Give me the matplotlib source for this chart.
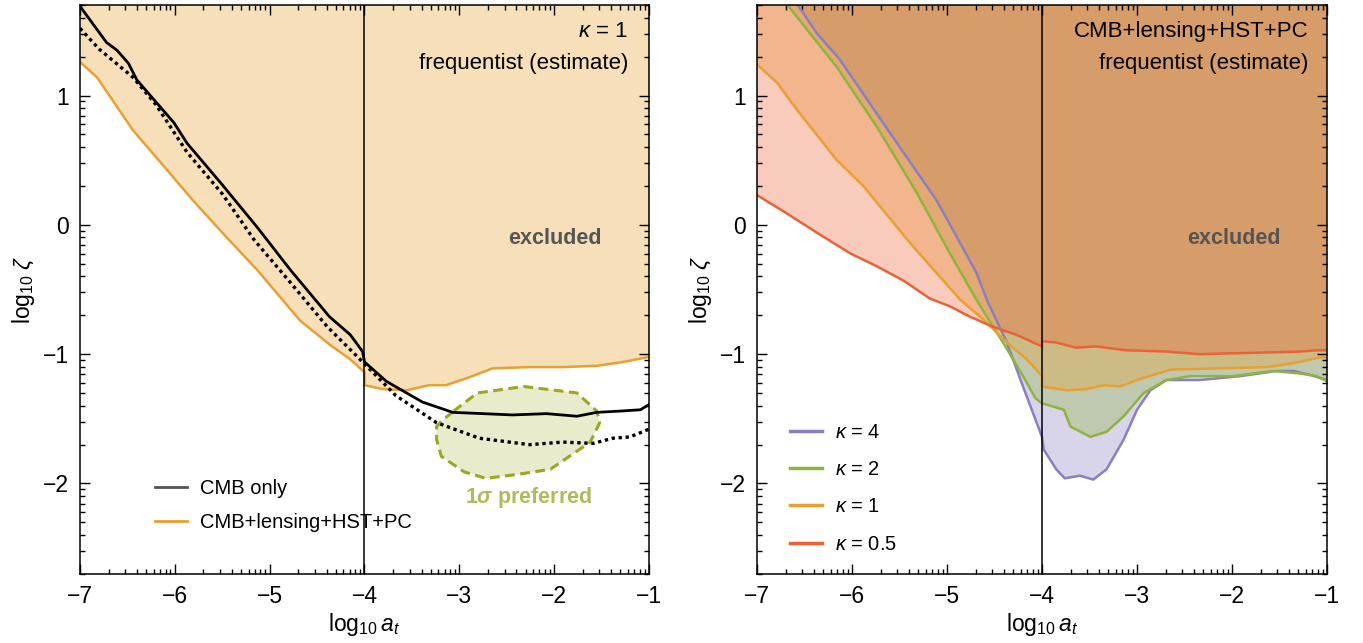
import numpy as np
import matplotlib
matplotlib.use('Agg')
import matplotlib.pyplot as plt
from matplotlib.lines import Line2D
from matplotlib.ticker import FixedLocator

plt.rcParams['font.family'] = ['Liberation Sans', 'DejaVu Sans']
plt.rcParams['mathtext.fontset'] = 'custom'
plt.rcParams['mathtext.rm'] = 'Liberation Sans'
plt.rcParams['mathtext.it'] = 'Liberation Sans:italic'
plt.rcParams['mathtext.bf'] = 'Liberation Sans:bold'
plt.rcParams['mathtext.bfit'] = 'Liberation Sans:italic:bold'

# ---- left panel: kappa = 1 ----
cmb_x = [-7.0, -6.72, -6.61, -6.49, -6.40, -6.01, -5.87, -5.50, -5.13, -4.78, -4.37, -4.15, -4.02, -4.0,
         -3.77, -3.39, -3.07, -2.75, -2.44, -2.08, -1.76, -1.55, -1.30, -1.09, -1.0]
cmb_y = [1.69, 1.41, 1.35, 1.25, 1.12, 0.79, 0.63, 0.31, -0.02, -0.35, -0.71, -0.85, -0.98, -1.06,
         -1.21, -1.37, -1.45, -1.46, -1.47, -1.46, -1.48, -1.45, -1.44, -1.43, -1.39]

dotted_x = [-7.0, -6.8, -6.44, -6.2, -5.87, -5.5, -5.16, -4.8, -4.39, -4.02, -3.67, -3.24, -2.79,
            -2.26, -1.91, -1.59, -1.38, -1.20, -1.0]
dotted_y = [1.52, 1.36, 1.14, 0.93, 0.56, 0.24, -0.12, -0.43, -0.79, -1.06, -1.32, -1.53, -1.65,
            -1.70, -1.68, -1.69, -1.65, -1.64, -1.58]

comb_x = [-7.0, -6.82, -6.44, -6.1, -5.81, -5.45, -5.13, -4.68, -4.36, -4.15, -4.0, -4.0, -3.81, -3.56,
          -3.32, -3.14, -2.90, -2.65, -2.26, -1.90, -1.55, -1.27, -1.06, -1.0]
comb_y = [1.26, 1.14, 0.73, 0.44, 0.19, -0.10, -0.35, -0.74, -0.93, -1.04, -1.14, -1.24, -1.27, -1.28,
          -1.24, -1.24, -1.18, -1.11, -1.10, -1.10, -1.09, -1.06, -1.03, -1.02]

pref_x = [-3.06, -2.81, -2.32, -1.76, -1.55, -1.52, -1.62, -2.04, -2.39, -2.72, -2.95, -3.19, -3.24, -3.24, -3.19]
pref_y = [-1.44, -1.30, -1.25, -1.30, -1.44, -1.53, -1.68, -1.89, -1.93, -1.96, -1.91, -1.79, -1.66, -1.56, -1.52]

# ---- right panel: different kappa ----
k05_x = [-7.0, -6.69, -6.37, -6.02, -5.74, -5.46, -5.18, -4.97, -4.76, -4.51, -4.27, -4.0, -4.0, -3.85,
         -3.64, -3.43, -3.11, -2.69, -2.34, -1.81, -1.28, -1.11, -1.0]
k05_y = [0.23, 0.09, -0.06, -0.22, -0.32, -0.43, -0.57, -0.63, -0.71, -0.79, -0.85, -0.94, -0.90, -0.91,
         -0.95, -0.94, -0.97, -0.98, -1.00, -0.99, -0.98, -0.97, -0.97]

k1_x = [-7.0, -6.79, -6.58, -6.16, -5.88, -5.39, -5.04, -4.86, -4.62, -4.37, -4.16, -4.0, -4.0, -3.74,
        -3.53, -3.35, -3.18, -3.00, -2.65, -2.16, -1.63, -1.35, -1.11, -1.0]
k1_y = [1.24, 1.10, 0.89, 0.50, 0.30, -0.14, -0.43, -0.58, -0.73, -0.91, -1.04, -1.17, -1.25, -1.28,
        -1.27, -1.24, -1.25, -1.20, -1.12, -1.11, -1.10, -1.07, -1.03, -1.02]

k2_x = [-7.0, -6.69, -6.16, -5.74, -5.32, -4.97, -4.69, -4.41, -4.20, -4.07, -4.0, -3.77, -3.70, -3.49,
        -3.32, -3.14, -2.93, -2.69, -2.44, -1.99, -1.57, -1.28, -1.11, -1.0]
k2_y = [1.98, 1.71, 1.22, 0.76, 0.25, -0.22, -0.58, -0.91, -1.17, -1.34, -1.38, -1.43, -1.56, -1.64,
        -1.60, -1.48, -1.30, -1.20, -1.17, -1.17, -1.13, -1.15, -1.17, -1.21]

k4_x = [-7.0, -6.58, -6.37, -6.13, -5.60, -5.11, -4.69, -4.58, -4.37, -4.20, -4.0, -3.98, -3.85, -3.76,
        -3.60, -3.46, -3.32, -3.14, -3.00, -2.86, -2.69, -2.34, -1.91, -1.53, -1.35, -1.18, -1.0]
k4_y = [2.1, 1.71, 1.48, 1.28, 0.71, 0.19, -0.37, -0.58, -0.91, -1.25, -1.64, -1.74, -1.89, -1.96,
        -1.94, -1.97, -1.89, -1.66, -1.43, -1.28, -1.20, -1.20, -1.17, -1.13, -1.13, -1.16, -1.20]

kappa_labels = ['4', '2', '1', '0.5']

orange = '#E8A030'
red = '#EB6237'
green = '#8FB43C'
purple = '#8B7FC0'
olive = '#9CA61E'

XLIM = (-7, -1)
YLIM = (-2.7, 1.7)
TOP = 5.0

W, H = 1363, 643
fig = plt.figure(figsize=(W / 100, H / 100), dpi=100)
axL = fig.add_axes([80 / W, 1 - 574 / H, 569 / W, 569 / H])
axR = fig.add_axes([757 / W, 1 - 574 / H, 570 / W, 569 / H])


def style_axes(ax):
    ax.set_xlim(*XLIM)
    ax.set_ylim(*YLIM)
    ax.xaxis.set_major_locator(FixedLocator(np.arange(-7, 0)))
    ax.yaxis.set_major_locator(FixedLocator(np.arange(-2, 2)))
    logs = np.log10(np.arange(2, 10))
    ax.xaxis.set_minor_locator(FixedLocator((np.arange(-8, 0)[:, None] + logs).ravel()))
    ax.yaxis.set_minor_locator(FixedLocator((np.arange(-3, 2)[:, None] + logs).ravel()))
    ax.tick_params(which='both', direction='in', top=True, right=True, width=1.0)
    ax.tick_params(which='major', length=7.5, labelsize=16.5, pad=8)
    ax.tick_params(which='minor', length=3.5)
    for s in ax.spines.values():
        s.set_linewidth(1.1)
    ax.axvline(-4, color='black', lw=1.1, zorder=5)
    ax.set_xlabel(r'$\mathrm{log}_{10}\,a_t$', fontsize=16.5, labelpad=2)
    ax.set_ylabel(r'$\mathrm{log}_{10}\;\zeta$', fontsize=16.5, labelpad=4)


# left
style_axes(axL)
axL.fill_between(comb_x, comb_y, TOP, color=orange, alpha=0.33, lw=0)
axL.fill(pref_x, pref_y, color=olive, alpha=0.22, lw=0)
axL.fill(pref_x, pref_y, fill=False, edgecolor=olive, lw=2.2, ls=(0, (3.2, 1.8)))
axL.plot(comb_x, comb_y, color=orange, lw=1.8)
axL.plot(cmb_x, cmb_y, color='black', lw=2.0)
axL.plot(dotted_x, dotted_y, color='black', lw=2.4, ls=(0, (1, 1.1)))

axL.text(0.963, 0.953, r'$\kappa$ = 1', transform=axL.transAxes, ha='right', va='center', fontsize=16)
axL.text(0.963, 0.898, 'frequentist (estimate)', transform=axL.transAxes, ha='right', va='center', fontsize=16)
axL.text(0.835, 0.59, 'excluded', transform=axL.transAxes, ha='center', va='center',
         fontsize=15.5, fontweight='bold', color='#555555')
axL.text(0.789, 0.135, r'1$\mathbfit{\sigma}$ preferred', transform=axL.transAxes, ha='center', va='center',
         fontsize=15.5, fontweight='bold', color='#B4B95A')

hL = [Line2D([], [], color='#555555', lw=2), Line2D([], [], color=orange, lw=2)]
axL.legend(hL, ['CMB only', 'CMB+lensing+HST+PC'], loc='upper left', bbox_to_anchor=(0.132, 0.167),
           frameon=False, fontsize=14.5, handlelength=1.6, handletextpad=0.65, labelspacing=0.73,
           borderaxespad=0, borderpad=0)

# right
style_axes(axR)
curves = [(k4_x, k4_y, purple), (k2_x, k2_y, green), (k1_x, k1_y, orange), (k05_x, k05_y, red)]
for cx, cy, c in curves:
    axR.fill_between(cx, cy, TOP, color=c, alpha=0.33, lw=0)
handles = []
for cx, cy, c in curves:
    axR.plot(cx, cy, color=c, lw=1.8)
    handles.append(Line2D([], [], color=c, lw=2.5))

axR.text(0.967, 0.953, 'CMB+lensing+HST+PC', transform=axR.transAxes, ha='right', va='center', fontsize=16)
axR.text(0.967, 0.898, 'frequentist (estimate)', transform=axR.transAxes, ha='right', va='center', fontsize=16)
axR.text(0.837, 0.59, 'excluded', transform=axR.transAxes, ha='center', va='center',
         fontsize=15.5, fontweight='bold', color='#555555')
axR.legend(handles, [r'$\kappa$ = ' + k for k in kappa_labels], loc='upper left',
           bbox_to_anchor=(0.058, 0.265), frameon=False, fontsize=14.5, handlelength=1.6,
           handletextpad=0.65, labelspacing=0.9, borderaxespad=0, borderpad=0)

fig.savefig('out.png', dpi=100)
